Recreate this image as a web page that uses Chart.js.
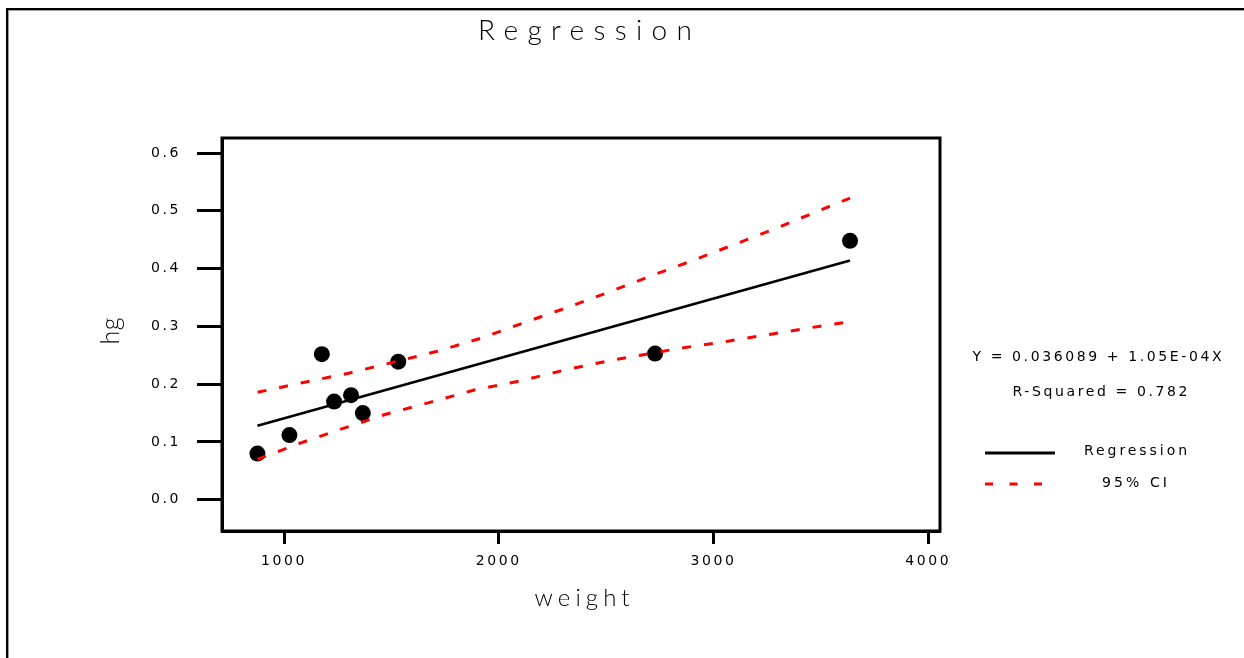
<!DOCTYPE html>
<html>
<head>
<meta charset="utf-8">
<title>Regression</title>
<script src="https://cdn.jsdelivr.net/npm/chart.js@4.4.1/dist/chart.umd.min.js"></script>
<style>
  html, body { margin: 0; padding: 0; background: #fff; overflow: hidden; }
  #wrap { width: 1244px; height: 658px; position: relative; }
</style>
</head>
<body>
<div id="wrap"><canvas id="chart" width="1244" height="658"></canvas></div>
<script>
// observed data (weight vs hg)
const weight = [876, 1025, 1176, 1233, 1312, 1367, 1532, 2728, 3636];
const hg     = [0.080, 0.112, 0.252, 0.170, 0.181, 0.150, 0.239, 0.253, 0.448];

// fitted line at both ends
const fitX = [876, 3636];
const fitY = [0.128, 0.414];

// 95% CI bands
const ciUpperX = [877, 1090, 1300, 1509, 1714, 1921, 2122, 2321, 2518, 2713, 2911, 3105, 3307, 3496, 3636];
const ciUpperY = [0.186, 0.203, 0.219, 0.238, 0.257, 0.280, 0.307, 0.333, 0.360, 0.388, 0.415, 0.443, 0.472, 0.501, 0.522];
const ciLowerX = [876, 1075, 1279, 1474, 1683, 1886, 2104, 2312, 2518, 2841, 3059, 3276, 3489, 3636];
const ciLowerY = [0.070, 0.098, 0.124, 0.148, 0.169, 0.190, 0.206, 0.225, 0.241, 0.262, 0.274, 0.287, 0.300, 0.308];

// axis ticks
const xTicks = [1000, 2000, 3000, 4000];
const yTicks = [0, 0.1, 0.2, 0.3, 0.4, 0.5, 0.6];

const equationText = 'Y = 0.036089 + 1.05E-04X';
const rsqText = 'R-Squared = 0.782';

function pts(xs, ys){ return xs.map((x,i)=>({x:x, y:ys[i]})); }

// draw text spread out to a given width (the original uses a wide bitmap font)
function spacedText(ctx, text, cx, cy, font, width, color){
  ctx.save();
  ctx.font = font;
  ctx.letterSpacing = '0px';
  const w = ctx.measureText(text).width;
  const s = text.length > 1 ? (width - w) / (text.length - 1) : 0;
  ctx.letterSpacing = s + 'px';
  ctx.fillStyle = color || '#000';
  ctx.textAlign = 'left';
  ctx.textBaseline = 'middle';
  ctx.fillText(text, cx - width/2, cy);
  ctx.restore();
}

const decor = {
  id: 'decor',
  beforeDraw(chart){
    const ctx = chart.ctx;
    ctx.save();
    ctx.fillStyle = '#fff';
    ctx.fillRect(0, 0, chart.width, chart.height);
    ctx.restore();
    // tick labels are drawn by the scales right after this hook
    ctx.letterSpacing = '2.6px';
  },
  afterDraw(chart){
    const ctx = chart.ctx;
    const a = chart.chartArea;
    ctx.letterSpacing = '0px';
    ctx.save();
    // outer frame (top + left only)
    ctx.fillStyle = '#000';
    ctx.fillRect(6, 8, chart.width - 6, 2);
    ctx.fillRect(6, 8, 2, chart.height - 8);
    ctx.fillStyle = '#9a9a9a';
    ctx.fillRect(8, 10, chart.width - 8, 1);
    ctx.fillRect(8, 10, 1, chart.height - 10);
    // plot box
    ctx.strokeStyle = '#000';
    ctx.lineWidth = 3;
    ctx.strokeRect(a.left, a.top, a.right - a.left, a.bottom - a.top);
    ctx.restore();

    // title and axis titles
    spacedText(ctx, 'Regression', 585, 31, '300 28px Lato, "DejaVu Sans", sans-serif', 214);
    spacedText(ctx, 'weight', 582, 598, '300 24px Lato, "DejaVu Sans", sans-serif', 95);
    ctx.save();
    ctx.translate(111, 331);
    ctx.rotate(-Math.PI/2);
    spacedText(ctx, 'hg', 0, 0, '300 25px Lato, "DejaVu Sans", sans-serif', 27);
    ctx.restore();

    // equation block
    spacedText(ctx, equationText, 1097, 357, '14px "DejaVu Sans", sans-serif', 249, '#000');
    spacedText(ctx, rsqText, 1100, 392, '14px "DejaVu Sans", sans-serif', 175, '#000');

    // legend
    ctx.save();
    ctx.strokeStyle = '#000';
    ctx.lineWidth = 3;
    ctx.beginPath(); ctx.moveTo(985, 453); ctx.lineTo(1055, 453); ctx.stroke();
    ctx.strokeStyle = '#ff0000';
    ctx.setLineDash([8, 16.5]);
    ctx.beginPath(); ctx.moveTo(985, 484); ctx.lineTo(1043, 484); ctx.stroke();
    ctx.restore();
    spacedText(ctx, 'Regression', 1135.5, 451, '14px "DejaVu Sans", sans-serif', 103, '#000');
    spacedText(ctx, '95% CI', 1134.5, 483, '14px "DejaVu Sans", sans-serif', 65, '#000');
  }
};

const tickFont = { family: '"DejaVu Sans", sans-serif', size: 14 };

new Chart(document.getElementById('chart'), {
  type: 'scatter',
  data: {
    datasets: [
      { label: '95% CI upper', type: 'line', data: pts(ciUpperX, ciUpperY), borderColor: '#ff0000',
        borderWidth: 3, borderDash: [9, 13], pointRadius: 0, fill: false, tension: 0, order: 0 },
      { label: '95% CI lower', type: 'line', data: pts(ciLowerX, ciLowerY), borderColor: '#ff0000',
        borderWidth: 3, borderDash: [9, 13], pointRadius: 0, fill: false, tension: 0, order: 0 },
      { label: 'Regression', type: 'line', data: pts(fitX, fitY), borderColor: '#000',
        borderWidth: 2.5, pointRadius: 0, fill: false, tension: 0, order: 1 },
      { label: 'hg', data: pts(weight, hg), backgroundColor: '#000', borderWidth: 0,
        pointRadius: 8, pointHoverRadius: 8, order: 2 }
    ]
  },
  options: {
    responsive: false,
    animation: false,
    events: [],
    layout: { padding: { top: 138, right: 304, bottom: 0, left: 0 } },
    plugins: { legend: { display: false }, title: { display: false }, tooltip: { enabled: false } },
    scales: {
      x: {
        type: 'linear', position: 'bottom', min: 711, max: 4055,
        afterBuildTicks: s => { s.ticks = xTicks.map(v => ({ value: v })); },
        afterFit: s => { s.height = 127; },
        grid: { drawOnChartArea: false, drawTicks: true, tickLength: 13, tickWidth: 3, color: '#000' },
        border: { display: true, color: '#000', width: 3 },
        ticks: { color: '#000', font: tickFont, padding: 9, maxRotation: 0, autoSkip: false,
                 callback: v => String(v) }
      },
      y: {
        type: 'linear', position: 'left', min: -0.054, max: 0.626,
        afterBuildTicks: s => { s.ticks = yTicks.map(v => ({ value: v })); },
        afterFit: s => { s.width = 222; },
        grid: { drawOnChartArea: false, drawTicks: true, tickLength: 25, tickWidth: 3, color: '#000' },
        border: { display: true, color: '#000', width: 3 },
        ticks: { color: '#000', font: tickFont, padding: 16, autoSkip: false,
                 callback: v => v.toFixed(1) }
      }
    }
  },
  plugins: [decor]
});
</script>
</body>
</html>
